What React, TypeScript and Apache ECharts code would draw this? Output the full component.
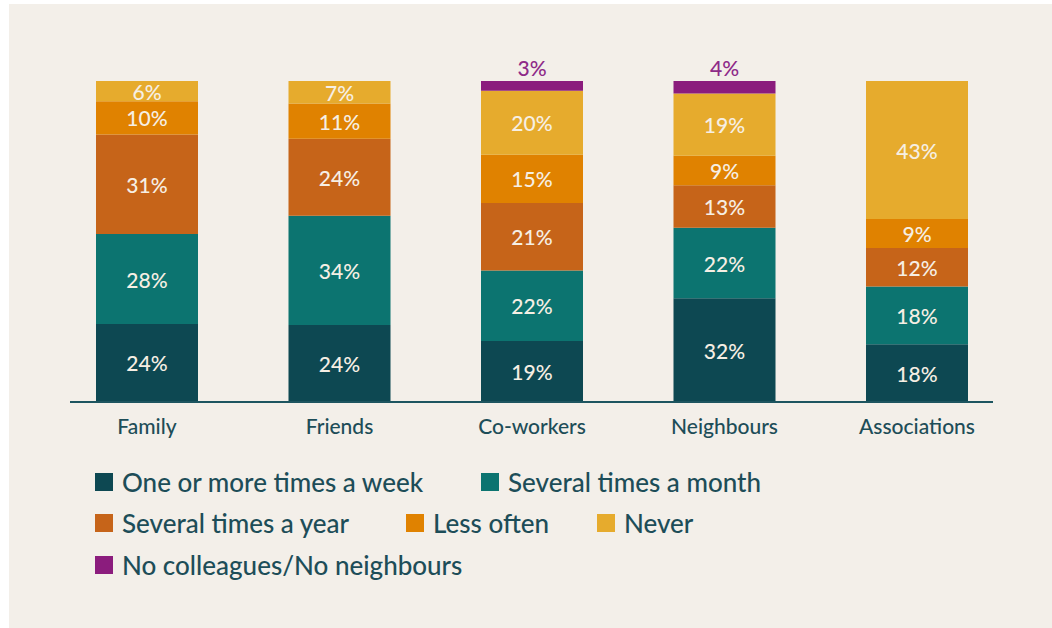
import React, { useEffect, useRef } from "react";
import * as echarts from "echarts";

const categories = ["Family", "Friends", "Co-workers", "Neighbours", "Associations"];

const weekly = [24.3, 24, 19, 32.3, 18];
const monthly = [28.0, 34, 22, 22.0, 18];
const yearly = [31.0, 24, 21, 13.2, 12];
const lessOften = [10.4, 11, 15, 9.2, 9];
const never = [6.3, 7, 20, 19.4, 43];
const noColleagues = [null, null, 3, 3.9, null];

const seriesNames = [
  "One or more times a week",
  "Several times a month",
  "Several times a year",
  "Less often",
  "Never",
  "No colleagues/No neighbours",
];

const colors = ["#0d4852", "#0c7470", "#c66419", "#e08200", "#e6ab2d", "#8b1c7d"];
const textColor = "#1d4d58";
const labelColor = "#f6efe4";
const font = "Lato";

export default function App() {
  const ref = useRef<HTMLDivElement>(null);

  useEffect(() => {
    document.body.style.margin = "0";
    document.body.style.background = "#ffffff";
    const chart = echarts.init(ref.current!, undefined, { renderer: "svg" });
    const dataSets = [weekly, monthly, yearly, lessOften, never, noColleagues];

    const series = dataSets.map((d, i) => ({
      name: seriesNames[i],
      type: "bar",
      stack: "total",
      barWidth: 102,
      data: d,
      itemStyle: { color: colors[i] },
      label: {
        show: true,
        position: i === 5 ? "top" : "inside",
        distance: 3,
        color: i === 5 ? "#8e2a88" : labelColor,
        fontFamily: font,
        fontSize: 21,
        fontWeight: 500,
        formatter: (p: any) => Math.round(p.value) + "%",
      },
    }));

    const legendPos = [
      [86, 479],
      [472, 479],
      [86, 520],
      [397, 520],
      [588, 520],
      [86, 562],
    ];

    const legends = seriesNames.map((n, i) => ({
      data: [n],
      left: legendPos[i][0],
      top: legendPos[i][1] - 14,
      icon: "rect",
      itemWidth: 18,
      itemHeight: 18,
      padding: 0,
      textStyle: {
        color: textColor,
        fontFamily: font,
        fontSize: 26,
        fontWeight: 500,
        padding: [0, 0, 0, 4],
      },
    }));

    chart.setOption({
      animation: false,
      backgroundColor: "#f3efe9",
      grid: { left: 41.75, width: 962.5, top: 77, height: 321 },
      xAxis: {
        type: "category",
        data: categories,
        axisLine: { show: false },
        axisTick: { show: false },
        axisLabel: {
          color: textColor,
          fontFamily: font,
          fontSize: 21,
          fontWeight: 500,
          margin: 13,
        },
      },
      yAxis: { type: "value", min: 0, max: 100, show: false },
      legend: legends,
      graphic: [
        {
          type: "line",
          shape: { x1: 61, y1: 398, x2: 984, y2: 398 },
          style: { stroke: "#1d5560", lineWidth: 2 },
          z: 10,
        },
      ],
      series,
    });
    return () => chart.dispose();
  }, []);

  return (
    <div style={{ position: "relative", width: 1052, height: 628, background: "#ffffff" }}>
      <div
        ref={ref}
        style={{ position: "absolute", left: 9, top: 4, width: 1043, height: 624 }}
      />
    </div>
  );
}
